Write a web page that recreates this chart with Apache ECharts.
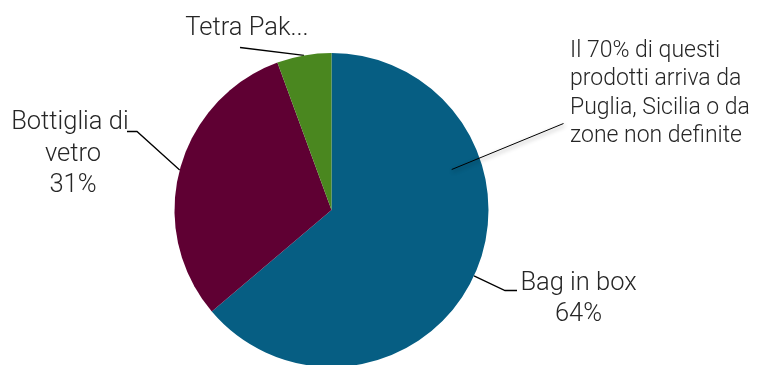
<!DOCTYPE html>
<html>
<head>
<meta charset="utf-8">
<script src="https://cdn.jsdelivr.net/npm/echarts@6/dist/echarts.min.js"></script>
<style>
html,body{margin:0;padding:0;background:#fff;}
#chart{width:757px;height:365px;}
</style>
</head>
<body>
<div id="chart"></div>
<script>
var categories = ['Bag in box', 'Bottiglia di vetro', 'Tetra Pak...'];
var values = [63.8, 30.6, 5.6];
var showPercent = [true, true, false];
var colors = ['#065E83', '#5F0033', '#4A871F'];
var annotationText = 'Il 70% di questi\nprodotti arriva da\nPuglia, Sicilia o da\nzone non definite';

var FONT = 'Roboto';
var chart = echarts.init(document.getElementById('chart'));

// label placement (layout only)
var labelPos = [
  {x: 578.5, y: 299, elbow: [505, 290.5], end: [517, 290.5]},
  {x: 73, y: 154.5, elbow: [137, 131.5], end: [127, 131.5]},
  {x: 247, y: 28.5, elbow: [240, 47.5], end: [240, 47.5]}
];

var data = categories.map(function (c, i) {
  return {
    name: c,
    value: values[i],
    itemStyle: {color: colors[i]},
    label: i === 1 ? {width: 150, overflow: 'break'} : {}
  };
});

chart.setOption({
  animation: false,
  series: [{
    type: 'pie',
    center: [331.5, 210],
    radius: 157,
    startAngle: 90,
    clockwise: true,
    data: data,
    itemStyle: {borderWidth: 0},
    label: {
      show: true,
      position: 'outside',
      fontFamily: FONT,
      fontWeight: 300,
      fontSize: 25.5,
      lineHeight: 31.5,
      color: '#262626',
      align: 'center',
      formatter: function (p) {
        return showPercent[p.dataIndex] ? p.name + '\n' + Math.round(p.percent) + '%' : p.name;
      }
    },
    labelLine: {show: true, length: 20, length2: 10, smooth: false, lineStyle: {color: '#000', width: 1.3}},
    labelLayout: function (params) {
      var lp = labelPos[params.dataIndex];
      var p0 = params.labelLinePoints ? params.labelLinePoints[0] : lp.elbow;
      return {
        x: lp.x,
        y: lp.y,
        align: 'center',
        verticalAlign: 'middle',
        labelLinePoints: [p0, lp.elbow, lp.end]
      };
    }
  }],
  graphic: [
    {
      type: 'line',
      shape: {x1: 451.7, y1: 169.5, x2: 563.5, y2: 123.5},
      style: {stroke: '#000', lineWidth: 1, shadowBlur: 4, shadowColor: 'rgba(0,0,0,0.45)', shadowOffsetX: 1, shadowOffsetY: 2},
      z: 10
    },
    {
      type: 'text',
      left: 570,
      top: 37,
      style: {
        text: annotationText,
        fontFamily: FONT,
        fontWeight: 300,
        fontSize: 23,
        lineHeight: 28.3,
        fill: '#262626'
      },
      z: 10
    }
  ]
});
</script>
</body>
</html>
